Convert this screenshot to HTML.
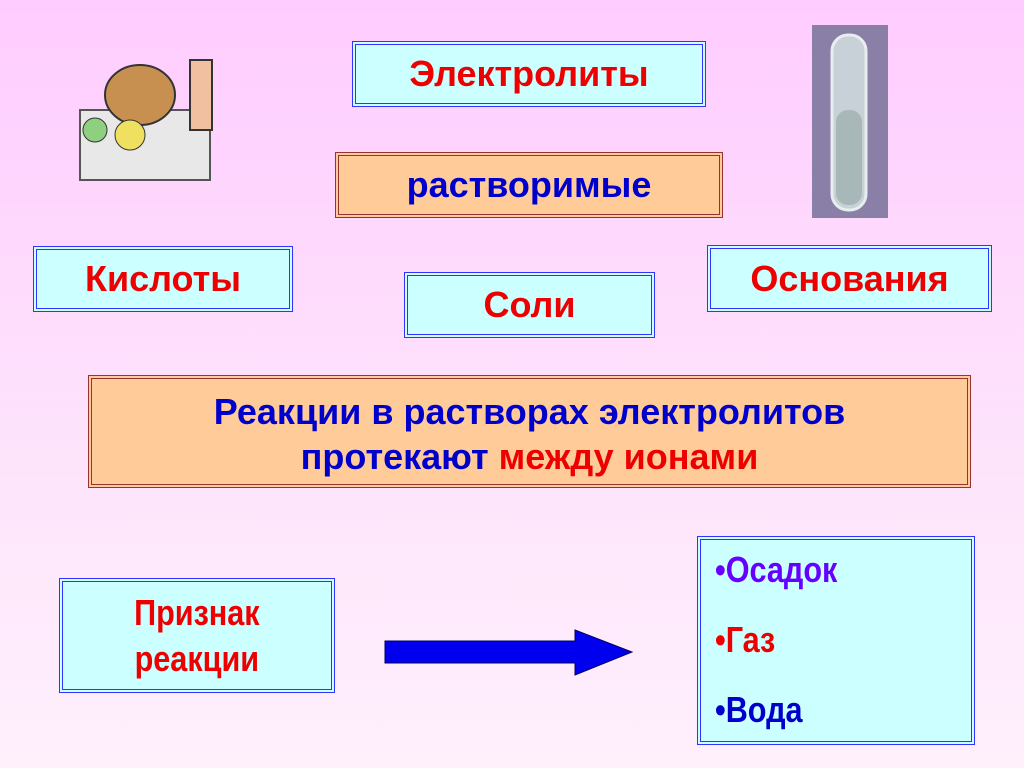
<!DOCTYPE html>
<html><head><meta charset="utf-8"><style>
html,body{margin:0;padding:0}
body{width:1024px;height:768px;position:relative;overflow:hidden;background:linear-gradient(#ffccff 0%,#fde4fb 60%,#fff0fc 100%);font-family:"Liberation Sans",sans-serif;font-weight:bold}
.b{position:absolute;box-sizing:border-box;display:flex;align-items:center;justify-content:center;text-align:center;font-size:36px}
.c{background:#ccffff;border:4px double #3333ff}
.p{background:#ffcc99;border:4px double #993333}
.r{color:#ee0000}.u{color:#0000cc}
</style></head><body>
<div class="b c r" style="left:352px;top:41px;width:354px;height:66px">Электролиты</div>
<div class="b p u" style="left:335px;top:152px;width:388px;height:66px">растворимые</div>
<div class="b c r" style="left:33px;top:246px;width:260px;height:66px">Кислоты</div>
<div class="b c r" style="left:404px;top:272px;width:251px;height:66px">Соли</div>
<div class="b c r" style="left:707px;top:245px;width:285px;height:67px">Основания</div>
<div class="b p u" style="left:88px;top:375px;width:883px;height:113px;display:block;line-height:45px;padding-top:10px;white-space:nowrap">Реакции в растворах электролитов<br>протекают <span class="r">между ионами</span></div>
<div class="b c r" style="left:59px;top:578px;width:276px;height:115px;line-height:46px"><span style="display:inline-block;transform:scaleX(0.85)">Признак<br>реакции</span></div>
<div class="b c" style="left:697px;top:536px;width:278px;height:209px;display:block;text-align:left;padding:8px 0 0 14px">
<div style="color:#6600ff;transform:scaleX(0.85);transform-origin:left;line-height:44px">•Осадок</div>
<div class="r" style="transform:scaleX(0.85);transform-origin:left;margin-top:26px;line-height:44px">•Газ</div>
<div class="u" style="transform:scaleX(0.85);transform-origin:left;margin-top:26px;line-height:44px">•Вода</div>
</div>
<svg style="position:absolute;left:0;top:0" width="1024" height="768">
<polygon points="385,641 575,641 575,630 632,652 575,675 575,663 385,663" fill="#0000ee" stroke="#000066" stroke-width="1"/>
<rect x="812" y="25" width="76" height="193" fill="#8a7fa6"/>
<rect x="832" y="35" width="34" height="175" rx="16" fill="#c8d0d8" stroke="#e8eef0" stroke-width="3"/>
<rect x="836" y="110" width="26" height="95" rx="12" fill="#a8b8b8"/>
<rect x="80" y="110" width="130" height="70" fill="#e8e8e8" stroke="#555" stroke-width="2"/>
<ellipse cx="140" cy="95" rx="35" ry="30" fill="#c89050" stroke="#333" stroke-width="2"/>
<rect x="190" y="60" width="22" height="70" fill="#f0c0a0" stroke="#333" stroke-width="2"/>
<circle cx="95" cy="130" r="12" fill="#8fd080" stroke="#333"/>
<circle cx="130" cy="135" r="15" fill="#f0e060" stroke="#333"/>
</svg>
</body></html>
